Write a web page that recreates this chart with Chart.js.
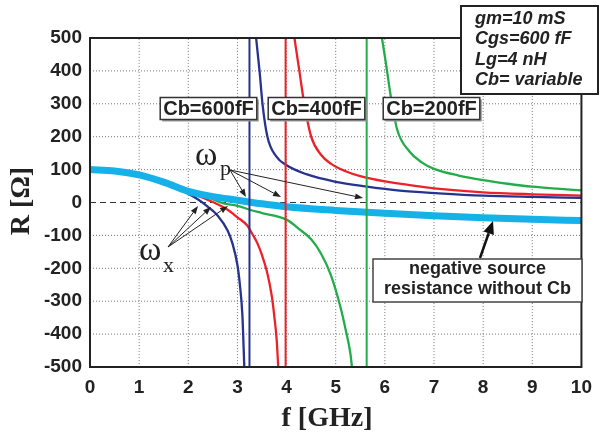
<!DOCTYPE html>
<html>
<head>
<meta charset="utf-8">
<script src="https://cdn.jsdelivr.net/npm/chart.js@4.4.0/dist/chart.umd.min.js"></script>
<style>
  html, body { margin: 0; padding: 0; background: #fff; }
  canvas { display: block; }
</style>
</head>
<body>
<canvas id="rChart" width="601" height="439"></canvas>
<script>
// axis ranges (GHz / Ohm)
const xMin = 0, xMax = 10;
const yMin = -500, yMax = 500;
const xTicks = [0, 1, 2, 3, 4, 5, 6, 7, 8, 9, 10];
const yTicks = [-500, -400, -300, -200, -100, 0, 100, 200, 300, 400, 500];

// negative source resistance without Cb (thick cyan)
const noCbF = [0, 0.5, 1, 1.5, 2, 2.5, 3, 3.5, 4, 5, 6, 7, 8, 9, 10];
const noCbR = [100, 96, 84, 62, 34, 18, 7, -4, -13, -24, -33, -40, -46, -51, -55];

// Cb = 600 fF (blue)
const blueLowF  = [0, 0.5, 1, 1.5, 1.8, 2, 2.2, 2.4, 2.6, 2.8, 2.9, 3.0, 3.05, 3.1, 3.14];
const blueLowR  = [99, 95, 82, 58, 41, 27, 9, -13, -40, -85, -125, -190, -250, -340, -500];
const blueHighF = [3.38, 3.45, 3.51, 3.61, 3.79, 4.0, 4.4, 5.0, 5.6, 6.3, 7.1, 8, 9, 10];
const blueHighR = [500, 400, 300, 200, 140, 113, 86, 63, 49, 36, 28, 21, 17, 14];

// Cb = 400 fF (red)
const redLowF  = [0, 0.5, 1, 1.5, 2, 2.4, 2.8, 3.0, 3.2, 3.3, 3.4, 3.5, 3.6, 3.7, 3.75, 3.8, 3.83];
const redLowR  = [99, 95, 82, 59, 32, 8, -22, -45, -70, -95, -122, -160, -210, -285, -345, -420, -500];
const redHighF = [4.16, 4.26, 4.36, 4.5, 4.7, 4.9, 5.2, 5.5, 6, 6.5, 7, 8, 9, 10];
const redHighR = [500, 400, 300, 200, 145, 118, 95, 80, 64, 53, 43, 31, 25, 21];

// Cb = 200 fF (green)
const greenLowF  = [0, 0.5, 1, 1.5, 2, 2.4, 2.7, 3.0, 3.25, 3.5, 4.0, 4.25, 4.5, 4.7, 4.9, 5.1, 5.2, 5.3, 5.33];
const greenLowR  = [99, 95, 82, 60, 33, 16, -2, -10, -22, -32, -52, -80, -112, -155, -220, -320, -385, -460, -500];
const greenHighF = [5.94, 6.02, 6.12, 6.25, 6.5, 6.75, 7, 7.5, 8, 8.5, 9, 9.5, 10];
const greenHighR = [500, 425, 323, 222, 155, 122, 102, 82, 68, 57, 48, 42, 37];

// resonance (pole) frequencies for 600, 400, 200 fF
const poleF = [3.245, 3.98, 5.63];

const blue = '#26338f', red = '#ec2229', green = '#23ac4a', cyan = '#17b1ea';

function pts(fs, rs) { return fs.map((f, i) => ({ x: f, y: rs[i] })); }
function vline(f) { return [{ x: f, y: yMin }, { x: f, y: yMax }]; }
function hline(r) { return [{ x: xMin, y: r }, { x: xMax, y: r }]; }

function curve(data, color, width) {
  return {
    data: data, borderColor: color, borderWidth: width,
    pointRadius: 0, fill: false, cubicInterpolationMode: 'monotone'
  };
}
function gridLine(data) {
  return Object.assign(curve(data, '#777', 1), { borderDash: [1, 2], clip: false });
}

// first dataset is drawn on top
const datasets = [
  curve(vline(poleF[0]), blue, 2),
  curve(vline(poleF[1]), red, 2),
  curve(vline(poleF[2]), green, 2),
  curve(pts(noCbF, noCbR), cyan, 7),
  curve(pts(blueLowF, blueLowR), blue, 2.3),
  curve(pts(redLowF, redLowR), red, 2.3),
  curve(pts(greenLowF, greenLowR), green, 2.3),
  curve(pts(blueHighF, blueHighR), blue, 2.3),
  curve(pts(redHighF, redHighR), red, 2.3),
  curve(pts(greenHighF, greenHighR), green, 2.3),
  Object.assign(curve(hline(0), '#333', 1), { borderDash: [6, 4] })
];
// dotted grid, one line per tick (drawn underneath everything)
xTicks.slice(1, -1).forEach(f => datasets.push(gridLine(vline(f))));
yTicks.slice(1, -1).filter(r => r !== 0).forEach(r => datasets.push(gridLine(hline(r))));

const sans = '"Liberation Sans", Arial, sans-serif';
const serif = '"Liberation Serif", "Times New Roman", serif';

function arrow(ctx, x1, y1, x2, y2, lw, hl, hw) {
  const a = Math.atan2(y2 - y1, x2 - x1);
  const bx = x2 - hl * Math.cos(a), by = y2 - hl * Math.sin(a);
  ctx.lineWidth = lw;
  ctx.beginPath(); ctx.moveTo(x1, y1); ctx.lineTo(bx, by); ctx.stroke();
  ctx.beginPath();
  ctx.moveTo(x2, y2);
  ctx.lineTo(bx + hw / 2 * Math.sin(a), by - hw / 2 * Math.cos(a));
  ctx.lineTo(bx - hw / 2 * Math.sin(a), by + hw / 2 * Math.cos(a));
  ctx.closePath(); ctx.fill();
}

function cbLabel(ctx, text, cx, cy) {
  ctx.font = 'bold 20px ' + sans;
  const w = ctx.measureText(text).width + 6, h = 22;
  const x = cx - w / 2, y = cy - h / 2;
  ctx.fillStyle = '#9a9a9a'; ctx.fillRect(x + 2, y + 2, w, h);
  ctx.fillStyle = '#fff'; ctx.fillRect(x, y, w, h);
  ctx.strokeStyle = '#333'; ctx.lineWidth = 1.5; ctx.strokeRect(x, y, w, h);
  ctx.fillStyle = '#222'; ctx.textAlign = 'center'; ctx.textBaseline = 'middle';
  ctx.fillText(text, cx, cy + 1);
}

const notes = {
  id: 'notes',
  afterDatasetsDraw(chart) {
    const { ctx, chartArea: a } = chart;
    ctx.save();
    // plot frame
    ctx.strokeStyle = '#222'; ctx.lineWidth = 2;
    ctx.strokeRect(a.left, a.top, a.right - a.left, a.bottom - a.top);

    // Cb labels
    cbLabel(ctx, 'Cb=600fF', 208.5, 108.5);
    cbLabel(ctx, 'Cb=400fF', 316.5, 108.5);
    cbLabel(ctx, 'Cb=200fF', 431.5, 108.5);

    // parameter box
    ctx.fillStyle = '#fff'; ctx.fillRect(460, 5, 139, 90);
    ctx.strokeStyle = '#222'; ctx.lineWidth = 2; ctx.strokeRect(461, 6, 137, 88);
    ctx.fillStyle = '#222'; ctx.textAlign = 'left'; ctx.textBaseline = 'alphabetic';
    ctx.font = 'italic bold 18px ' + sans;
    ['gm=10 mS', 'Cgs=600 fF', 'Lg=4 nH', 'Cb= variable'].forEach((t, i) => {
      ctx.fillText(t, 475, 24 + i * 20.3);
    });

    // negative source resistance box
    ctx.fillStyle = '#fff'; ctx.fillRect(373, 259, 209, 43);
    ctx.strokeStyle = '#444'; ctx.lineWidth = 1.5; ctx.strokeRect(373, 259, 209, 43);
    ctx.fillStyle = '#222'; ctx.textAlign = 'center'; ctx.textBaseline = 'middle';
    ctx.font = 'bold 18px ' + sans;
    ctx.fillText('negative source', 477.5, 269);
    ctx.fillText('resistance without Cb', 477.5, 289);
    ctx.strokeStyle = '#111'; ctx.fillStyle = '#111';
    arrow(ctx, 480, 258, 493, 221, 2.5, 13, 11);

    // omega labels
    ctx.fillStyle = '#222'; ctx.textAlign = 'left'; ctx.textBaseline = 'alphabetic';
    ctx.font = '34px ' + serif;
    ctx.fillText('\u03c9', 195, 165);
    ctx.fillText('\u03c9', 139, 260);
    ctx.font = '22px ' + serif;
    ctx.fillText('p', 220, 175);
    ctx.fillText('x', 163, 272);

    ctx.strokeStyle = '#222'; ctx.fillStyle = '#222';
    [[246, 197], [281, 197], [363, 198]].forEach(p => arrow(ctx, 230, 170, p[0], p[1], 1, 8, 6));
    [[198, 206], [211, 207], [228, 206]].forEach(p => arrow(ctx, 168, 247, p[0], p[1], 1, 8, 6));

    // axis titles
    ctx.fillStyle = '#222';
    ctx.font = 'bold 28px ' + serif;
    ctx.textAlign = 'center'; ctx.textBaseline = 'middle';
    ctx.fillText('f [GHz]', 327, 419);
    ctx.save();
    ctx.translate(22, 201); ctx.rotate(-Math.PI / 2);
    ctx.fillText('R [\u03a9]', 0, 0);
    ctx.restore();
    ctx.restore();
  }
};

const ctx = document.getElementById('rChart').getContext('2d');
const rChart = new Chart(ctx, {
  type: 'line',
  data: { datasets: datasets },
  options: {
    responsive: false,
    animation: false,
    devicePixelRatio: 1,
    layout: { padding: { left: 0, top: 38, right: 18, bottom: 0 } },
    plugins: { legend: { display: false }, tooltip: { enabled: false } },
    scales: {
      x: {
        type: 'linear', min: xMin, max: xMax,
        afterFit: s => { s.height = 72; },
        afterBuildTicks: s => { s.ticks = xTicks.map(v => ({ value: v })); },
        ticks: { color: '#222', padding: 9, font: { family: sans, size: 19, weight: 'bold' } },
        grid: { display: false, drawTicks: false },
        border: { display: false }
      },
      y: {
        min: yMin, max: yMax,
        afterFit: s => { s.width = 90; },
        afterBuildTicks: s => { s.ticks = yTicks.map(v => ({ value: v })); },
        ticks: { color: '#222', padding: 8, font: { family: sans, size: 19, weight: 'bold' } },
        grid: { display: false, drawTicks: false },
        border: { display: false }
      }
    }
  },
  plugins: [notes]
});
</script>
</body>
</html>
